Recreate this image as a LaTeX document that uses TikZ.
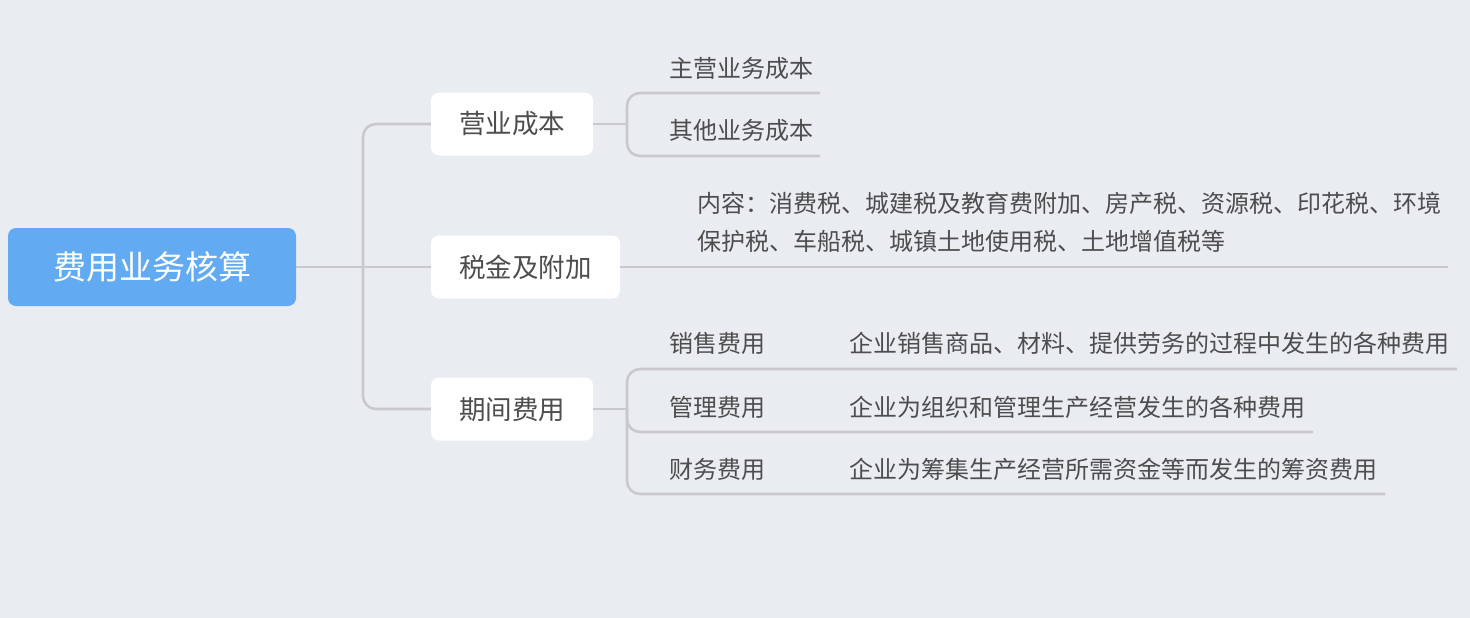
\documentclass[tikz,border=0pt]{standalone}
\usepackage{fontspec}
\setmainfont{Noto Sans CJK SC}
\definecolor{bg}{RGB}{233,237,242}
\definecolor{rootblue}{RGB}{98,170,242}
\definecolor{linegray}{RGB}{200,200,205}
\definecolor{txt}{RGB}{77,77,77}
\tikzset{
  rootbox/.style={fill=rootblue, rounded corners=8pt, text=white, font=\fontsize{33}{38}\selectfont, minimum width=288pt, minimum height=78pt, inner sep=0},
  mainbox/.style={fill=white, rounded corners=8pt, text=txt, font=\fontsize{26.5}{30}\selectfont, minimum height=63pt, inner sep=0},
  lbl/.style={text=txt, font=\fontsize{24}{38}\selectfont, inner sep=0, anchor=west},
  conn/.style={draw=linegray, line width=2.6pt, rounded corners=13pt}
}
\begin{document}
\begin{tikzpicture}[x=1pt,y=-1pt]
\fill[bg] (0,0) rectangle (1470,618);
\useasboundingbox (0,0) rectangle (1470,618);

\node[rootbox] (root) at (152,267) {费用业务核算};
\node[mainbox, minimum width=162pt] (n1) at (512,124) {营业成本};
\node[mainbox, minimum width=189pt] (n2) at (525.5,267) {税金及附加};
\node[mainbox, minimum width=162pt] (n3) at (512,409) {期间费用};

\coordinate (j1) at (363,267);
\coordinate (j2) at (627,124);
\coordinate (j3) at (627,409);

\node[lbl] (a1) at (669,68) {主营业务成本};
\node[lbl] (a2) at (669,130) {其他业务成本};
\coordinate (e1) at (820,93);
\coordinate (e2) at (820,156);

\node[lbl, align=left] (b1) at (697,222) {内容：消费税、城建税及教育费附加、房产税、资源税、印花税、环境\\保护税、车船税、城镇土地使用税、土地增值税等};
\coordinate (e3) at (1448,267);

\node[lbl] (c1) at (669,343) {销售费用};
\node[lbl] (c2) at (669,407) {管理费用};
\node[lbl] (c3) at (669,469) {财务费用};
\node[lbl] (d1) at (849,343) {企业销售商品、材料、提供劳务的过程中发生的各种费用};
\node[lbl] (d2) at (849,407) {企业为组织和管理生产经营发生的各种费用};
\node[lbl] (d3) at (849,469) {企业为筹集生产经营所需资金等而发生的筹资费用};
\coordinate (e4) at (1457,369);
\coordinate (e5) at (1313,432);
\coordinate (e6) at (1385,494);

% connectors
\draw[conn] (root.east) -- (n2.west);
\draw[conn] (n1.west) -| (j1) |- (n3.west);

\draw[conn] (n1.east) -- (j2);
\draw[conn] (e1) -| (j2) |- (e2);

\draw[conn] (n2.east) -- (e3);

\draw[conn] (n3.east) -- (j3);
\draw[conn] (e4) -| (j3) |- (e6);
\draw[conn] (j3) |- (e5);
\end{tikzpicture}
\end{document}
